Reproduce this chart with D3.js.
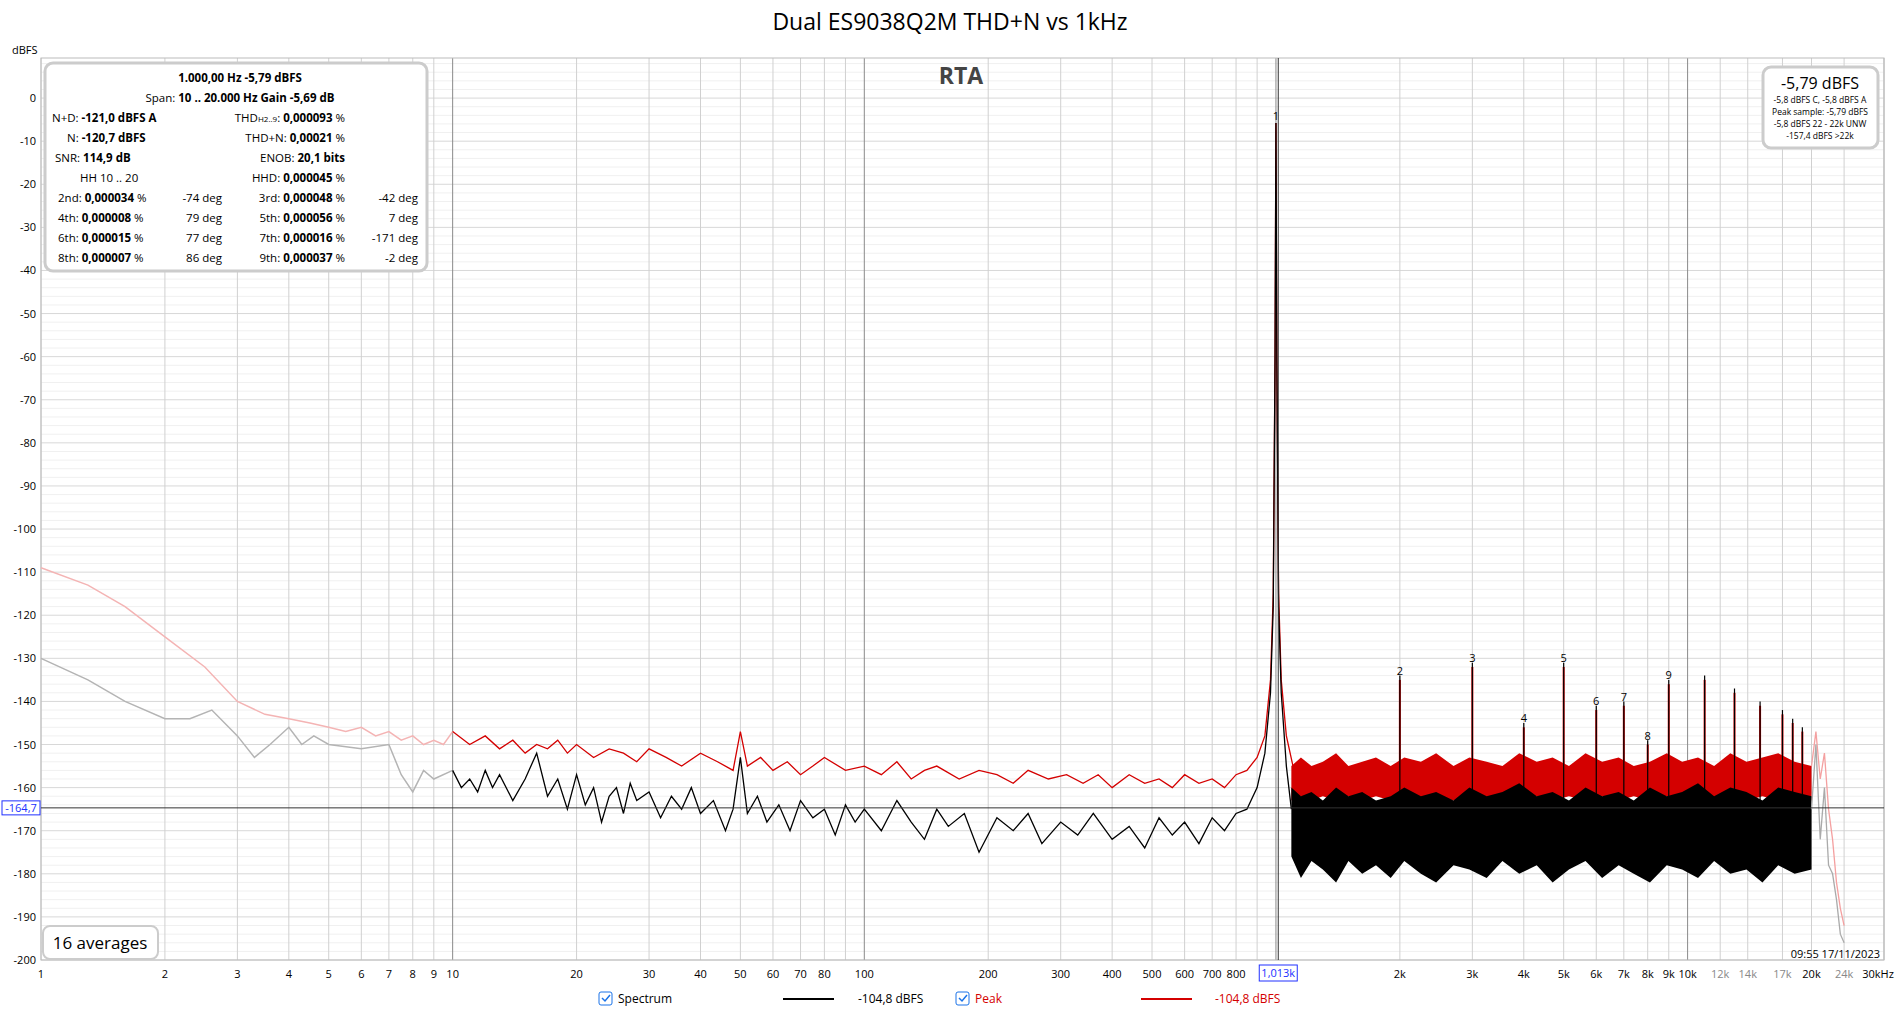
<!DOCTYPE html>
<html><head><meta charset="utf-8">
<script src="https://cdn.jsdelivr.net/npm/d3@7"></script>
<style>body{margin:0;background:#fff;font-family:"Segoe UI","Open Sans","Noto Sans",sans-serif}</style>
</head><body><svg id="c" width="1900" height="1009"></svg>
<script>
// values
var redLine = [[1,-109],[1.3,-113],[1.6,-118],[2,-125],[2.5,-132],[3,-140],[3.5,-143],[4,-144],[4.5,-145],[5,-146],[5.5,-147],[6,-146],[6.5,-148],[7,-147],[7.5,-149],[8,-148],[8.5,-150],[9,-149],[9.5,-150],[10,-147],
 [11,-150],[12,-148],[13,-151],[14,-149],[15,-152],[16,-150],[17,-151],[18,-149],[19,-152],[20,-150],[22,-153],[24,-151],[26,-152],[28,-154],[30,-151],[33,-153],[36,-155],[40,-152],[44,-154],[48,-156],[50,-147],[52,-155],[56,-153],[60,-156],[65,-154],[70,-157],[75,-155],[80,-153],[90,-156],[100,-155],[110,-157],[120,-154],[130,-158],[140,-156],[150,-155],[170,-158],[190,-156],[210,-157],[230,-159],[250,-156],[280,-158],[310,-157],[340,-159],[370,-157],[400,-160],[440,-157],[480,-159],[520,-158],[560,-160],[600,-157],[650,-159],[700,-158],[750,-160],[800,-157],[850,-156],[900,-153],[940,-148],[970,-135],[985,-115],[995,-60],[1000,-5.8],[1005,-60],[1015,-115],[1030,-135],[1060,-148],[1100,-155]];
var blackLine = [[1,-130],[1.3,-135],[1.6,-140],[2,-144],[2.3,-144],[2.6,-142],[3,-148],[3.3,-153],[3.6,-150],[4,-146],[4.3,-150],[4.6,-148],[5,-150],[6,-151],[7,-150],[7.5,-157],[8,-161],[8.5,-156],[9,-158],[10,-156],
 [10.5,-160],[11,-158],[11.5,-161],[12,-156],[12.5,-160],[13,-157],[14,-163],[15,-158],[16,-152],[17,-162],[18,-158],[19,-165],[20,-157],[21,-164],[22,-160],[23,-168],[24,-162],[25,-160],[26,-166],[27,-159],[28,-163],[30,-161],[32,-167],[34,-162],[36,-165],[38,-160],[40,-166],[43,-163],[46,-170],[48,-165],[50,-153],[52,-166],[55,-162],[58,-168],[62,-164],[66,-170],[70,-163],[75,-167],[80,-165],[85,-171],[90,-164],[95,-168],[100,-165],[110,-170],[120,-163],[130,-168],[140,-172],[150,-165],[160,-169],[175,-166],[190,-175],[210,-167],[230,-170],[250,-166],[270,-173],[300,-168],[330,-171],[360,-166],[400,-172],[440,-169],[480,-174],[520,-167],[560,-171],[600,-168],[650,-173],[700,-167],[750,-170],[800,-166],[850,-165],[900,-160],[940,-152],[970,-138],[985,-118],[995,-60],[1000,-5.8],[1005,-60],[1015,-118],[1030,-138],[1060,-155],[1090,-165]];
var bandF      = [1090,1150,1220,1300,1400,1500,1620,1750,1900,2050,2250,2450,2700,2950,3250,3550,3900,4300,4700,5150,5650,6200,6800,7400,8100,8900,9700,10600,11600,12700,13900,15200,16600,18200,20000];
var redTop     = [-155,-153,-155,-154,-152,-155,-154,-153,-155,-153,-154,-152,-155,-153,-154,-155,-152,-154,-153,-155,-152,-154,-153,-155,-154,-152,-154,-153,-155,-152,-154,-153,-152,-154,-155];
var redBot     = [-163,-162,-163,-162,-163,-162,-163,-162,-163,-162,-163,-162,-163,-162,-163,-162,-163,-162,-163,-162,-163,-162,-163,-162,-163,-162,-163,-162,-163,-162,-163,-162,-163,-162,-163];
var blackTop   = [-160,-162,-161,-163,-160,-162,-161,-163,-162,-160,-162,-161,-163,-160,-162,-161,-159,-162,-161,-163,-160,-162,-161,-163,-160,-162,-161,-159,-162,-160,-161,-163,-160,-161,-162];
var blackBot   = [-176,-181,-177,-179,-182,-177,-180,-178,-181,-177,-180,-182,-178,-179,-181,-177,-180,-178,-182,-179,-177,-181,-178,-180,-182,-178,-179,-181,-177,-180,-179,-182,-178,-180,-179];
var harmF      = [2000,3000,4000,5000,6000,7000,8000,9000,11000,13000,15000,17000,18000,19000];
var harmPeak   = [-135,-132,-146,-132,-142,-141,-150,-136,-135,-138,-141,-143,-145,-147];
var harmLabel  = ["2","3","4","5","6","7","8","9","","","","","",""];
var redTail    = [[20000,-155],[20500,-147],[21000,-158],[21500,-152],[22000,-165],[22500,-172],[23000,-182],[23500,-188],[24000,-192]];
var blackTail  = [[20000,-165],[20500,-150],[21000,-172],[21500,-160],[22000,-178],[22500,-180],[23000,-186],[23500,-194],[24000,-196]];
var xTicks = [1,2,3,4,5,6,7,8,9,10,20,30,40,50,60,70,80,100,200,300,400,500,600,700,800];
var xTickK = [2,3,4,5,6,7,8,9,10,12,14,17,20,24];
var yTicks = d3.range(0,-201,-10);

var svg = d3.select('#c');
var L=41,R=1884,T=58,B=960;
var x = d3.scaleLog().domain([1,30000]).range([L,R]);
var y = d3.scaleLinear().domain([-200,9.3]).range([B,T]);

svg.append('text').attr('x',950).attr('y',30).attr('text-anchor','middle').attr('font-size',23).text('Dual ES9038Q2M THD+N vs 1kHz');
svg.append('text').attr('x',12).attr('y',54).attr('font-size',11).text('dBFS');

var g = svg.append('g');
d3.range(-200,10,2).forEach(function(v){
  g.append('line').attr('x1',L).attr('x2',R).attr('y1',y(v)).attr('y2',y(v)).attr('stroke',v%10===0?'#d8d8d8':'#f0f0f0');
});
var vlines=[];
[1,10,100,1000,10000].forEach(function(d){for(var k=1;k<10;k++){if(d*k<=30000)vlines.push(d*k);}});
vlines.push(12000,14000,17000,24000,30000);
vlines.forEach(function(f){
  var major=[10,100,1000,10000].indexOf(f)>=0;
  g.append('line').attr('x1',x(f)).attr('x2',x(f)).attr('y1',T).attr('y2',B).attr('stroke',major?'#8a8a8a':'#d0d0d0');
});
g.append('rect').attr('x',L).attr('y',T).attr('width',R-L).attr('height',B-T).attr('fill','none').attr('stroke','#bbb');

yTicks.forEach(function(v){
  svg.append('text').attr('x',36).attr('y',y(v)+4).attr('text-anchor','end').attr('font-size',11).text(v);
});
xTicks.forEach(function(f){
  svg.append('text').attr('x',x(f)).attr('y',978).attr('text-anchor','middle').attr('font-size',11).text(f);
});
xTickK.forEach(function(f){
  svg.append('text').attr('x',x(f*1000)).attr('y',978).attr('text-anchor','middle').attr('font-size',11)
    .attr('fill',f>10&&f!==20?'#888':'#000').text(f+'k');
});
svg.append('text').attr('x',x(30000)-6).attr('y',978).attr('text-anchor','middle').attr('font-size',11).text('30kHz');

var line = d3.line().x(function(d){return x(d[0]);}).y(function(d){return y(d[1]);});
function split(arr,lo,hi){return arr.filter(function(d){return d[0]>=lo&&d[0]<=hi;});}
var area = d3.area().x(function(d){return x(d[0]);}).y0(function(d){return y(d[2]);}).y1(function(d){return y(d[1]);});
function band(top,bot){return bandF.map(function(f,i){return [f,top[i],bot[i]];});}

// peak (red)
svg.append('path').attr('d',line(split(redLine,1,10))).attr('fill','none').attr('stroke','#f4b4b4').attr('stroke-width',1.5);
svg.append('path').attr('d',line(split(redLine,10,1100))).attr('fill','none').attr('stroke','#d40000').attr('stroke-width',1.3);
svg.append('path').attr('d',area(band(redTop,redBot))).attr('fill','#d40000');
svg.append('path').attr('d',line(redTail)).attr('fill','none').attr('stroke','#f4a0a0').attr('stroke-width',1.3);
harmF.forEach(function(f,i){
  svg.append('line').attr('x1',x(f)).attr('x2',x(f)).attr('y1',y(-160)).attr('y2',y(harmPeak[i])).attr('stroke','#d40000').attr('stroke-width',2);
});
// spectrum (black)
svg.append('path').attr('d',line(split(blackLine,1,10))).attr('fill','none').attr('stroke','#b4b4b4').attr('stroke-width',1.5);
svg.append('path').attr('d',line(split(blackLine,10,1100))).attr('fill','none').attr('stroke','#000').attr('stroke-width',1.3);
svg.append('path').attr('d',area(band(blackTop,blackBot))).attr('fill','#000');
svg.append('path').attr('d',line(blackTail)).attr('fill','none').attr('stroke','#aaa').attr('stroke-width',1.3);
harmF.forEach(function(f,i){
  svg.append('line').attr('x1',x(f)).attr('x2',x(f)).attr('y1',y(-165)).attr('y2',y(harmPeak[i]+1)).attr('stroke','#000').attr('stroke-width',1.2);
  if(harmLabel[i]) svg.append('text').attr('x',x(f)).attr('y',y(harmPeak[i])-5).attr('text-anchor','middle').attr('font-size',11).text(harmLabel[i]);
});
svg.append('text').attr('x',x(1000)).attr('y',y(-5.8)-3).attr('text-anchor','middle').attr('font-size',11).text('1');

// cursors
svg.append('line').attr('x1',L).attr('x2',R).attr('y1',y(-164.7)).attr('y2',y(-164.7)).attr('stroke','#333');
svg.append('line').attr('x1',x(1013)).attr('x2',x(1013)).attr('y1',T).attr('y2',B).attr('stroke','#333');
svg.append('rect').attr('x',2).attr('y',y(-164.7)-7).attr('width',38).attr('height',14).attr('fill','#fff').attr('stroke','#2030ff');
svg.append('text').attr('x',21).attr('y',y(-164.7)+4).attr('text-anchor','middle').attr('font-size',11).attr('fill','#2030ff').text('-164,7');
svg.append('rect').attr('x',x(1013)-19).attr('y',965).attr('width',38).attr('height',16).attr('fill','#fff').attr('stroke','#2030ff');
svg.append('text').attr('x',x(1013)).attr('y',977).attr('text-anchor','middle').attr('font-size',11).attr('fill','#2030ff').text('1,013k');

svg.append('text').attr('x',961).attr('y',84).attr('text-anchor','middle').attr('font-size',23).attr('font-weight','bold').attr('fill','#444').text('RTA');

// info box
var ib = svg.append('g');
ib.append('rect').attr('x',45).attr('y',63).attr('width',382).attr('height',208).attr('rx',8).attr('fill','#fff').attr('stroke','#ccc').attr('stroke-width',3);
function t(xx,yy,a,parts){var e=ib.append('text').attr('x',xx).attr('y',yy).attr('text-anchor',a).attr('font-size',11.5);
  parts.forEach(function(p){var s=e.append('tspan').attr('font-weight',p[1]===1?'bold':'normal').text(p[0]);
    if(p[1]===2) s.attr('font-size',8);});}
t(240,82,'middle',[['1.000,00 Hz  -5,79 dBFS',1]]);
t(240,102,'middle',[['Span: ',0],['10 .. 20.000 Hz   Gain -5,69 dB',1]]);
var rows=[
 [['N+D: ',0],['-121,0 dBFS A',1]],[['THD',0],['H2..9',2],[': ',0],['0,000093',1],[' %',0]],
 [['N: ',0],['-120,7 dBFS',1]],[['THD+N: ',0],['0,00021',1],[' %',0]],
 [['SNR:  ',0],['114,9 dB',1]],[['ENOB: ',0],['20,1 bits',1]],
 [['HH 10 .. 20',0]],[['HHD: ',0],['0,000045',1],[' %',0]]];
var lx=[52,67,55,80];
for(var i=0;i<8;i++){ t(i%2?345:lx[i/2],122+Math.floor(i/2)*20,i%2?'end':'start',rows[i]); }
var hh=[['2nd','0,000034','-74','3rd','0,000048','-42'],['4th','0,000008','79','5th','0,000056','7'],
 ['6th','0,000015','77','7th','0,000016','-171'],['8th','0,000007','86','9th','0,000037','-2']];
hh.forEach(function(r,i){var yy=202+i*20;
  t(58,yy,'start',[[r[0]+': ',0],[r[1],1],[' %',0]]);
  t(222,yy,'end',[[r[2]+' deg',0]]);
  t(345,yy,'end',[[r[3]+': ',0],[r[4],1],[' %',0]]);
  t(418,yy,'end',[[r[5]+' deg',0]]);
});

// right box
svg.append('rect').attr('x',1763).attr('y',67).attr('width',115).attr('height',81).attr('rx',8).attr('fill','#fff').attr('stroke','#ccc').attr('stroke-width',3);
svg.append('text').attr('x',1820).attr('y',89).attr('text-anchor','middle').attr('font-size',16).text('-5,79 dBFS');
['-5,8 dBFS C, -5,8 dBFS A','Peak sample: -5,79 dBFS','-5,8 dBFS 22 - 22k UNW','-157,4 dBFS >22k'].forEach(function(s,i){
  svg.append('text').attr('x',1820).attr('y',103+i*12).attr('text-anchor','middle').attr('font-size',8.5).text(s);});

svg.append('rect').attr('x',43).attr('y',926).attr('width',115).attr('height',33).attr('rx',7).attr('fill','#fff').attr('stroke','#ccc').attr('stroke-width',2);
svg.append('text').attr('x',100).attr('y',949).attr('text-anchor','middle').attr('font-size',17).text('16 averages');
svg.append('text').attr('x',1880).attr('y',958).attr('text-anchor','end').attr('font-size',11).text('09:55 17/11/2023');

// legend
function chk(xx){svg.append('rect').attr('x',xx).attr('y',992).attr('width',13).attr('height',13).attr('rx',2).attr('fill','#fff').attr('stroke','#1a73e8');
 svg.append('path').attr('d','M'+(xx+3)+',998 l3,3 l5,-6').attr('fill','none').attr('stroke','#1a73e8').attr('stroke-width',1.5);}
chk(599); svg.append('text').attr('x',618).attr('y',1003).attr('font-size',12).text('Spectrum');
svg.append('line').attr('x1',783).attr('x2',834).attr('y1',999).attr('y2',999).attr('stroke','#000').attr('stroke-width',2);
svg.append('text').attr('x',858).attr('y',1003).attr('font-size',12).text('-104,8 dBFS');
chk(956); svg.append('text').attr('x',975).attr('y',1003).attr('font-size',12).attr('fill','#d40000').text('Peak');
svg.append('line').attr('x1',1141).attr('x2',1192).attr('y1',999).attr('y2',999).attr('stroke','#d40000').attr('stroke-width',2);
svg.append('text').attr('x',1215).attr('y',1003).attr('font-size',12).attr('fill','#d40000').text('-104,8 dBFS');
</script></body></html>
